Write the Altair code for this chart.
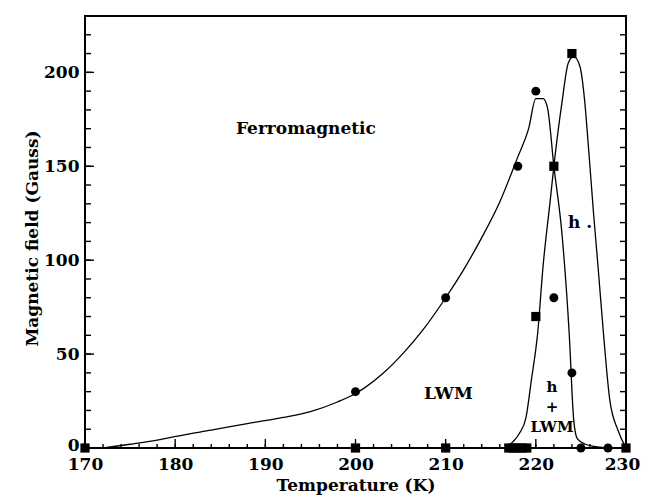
import altair as alt
import pandas as pd

# ---- data ----
circle_T = [200, 210, 218, 220, 222, 224, 225, 228]
circle_B = [30, 80, 150, 190, 80, 40, 0, 0]

square_T = [170, 200, 210, 217, 217.5, 218, 218.5, 219, 220, 222, 224, 230]
square_B = [0, 0, 0, 0, 0, 0, 0, 0, 70, 150, 210, 0]

# boundary of the LWM phase (drawn through the circles)
lwm_T = [172, 175, 178, 181, 184, 188, 192, 195, 198, 200, 201, 203, 205.3,
         207.5, 210, 212, 214, 216, 218, 219.2, 220, 220.8, 221.3, 222,
         222.9, 223.7, 224.2, 224.6, 225.5, 226.5, 228]
lwm_B = [0, 2, 4.2, 7, 9.5, 13, 16.3, 19.4, 24.5, 29, 32, 39.5, 50.5,
         63, 80, 95, 112, 131, 155, 170, 186, 186, 181, 150,
         114, 61, 15, 5, 2, 0.8, 0]

# boundary of the h phase (drawn through the squares)
h_T = [216.6, 217.5, 218.2, 218.9, 219.5, 220.2, 220.8, 221.6, 222, 222.9,
       223.6, 224.2, 224.9, 225.4, 225.8, 226.4, 226.9, 227.5, 228.2, 229.1, 230]
h_B = [0, 3.5, 8, 16, 36, 61, 96.7, 132, 150, 184,
       205, 208.5, 203, 185.6, 162.5, 125, 96.5, 61, 25.6, 9.6, 0]

big_text = ["Ferromagnetic", "LWM", "h ."]
big_T = [194.5, 210.3, 224.9]
big_B = [169.6, 29, 120]

small_text = ["h", "+", "LWM"]
small_T = [221.8, 221.8, 221.8]
small_B = [32.5, 21.8, 11]

x_labels = [170, 180, 190, 200, 210, 220, 230]
y_labels = [0, 50, 100, 150, 200]
x_minor = list(range(170, 231, 2))
y_minor = list(range(0, 231, 10))

FONT = "DejaVu Serif"
W, H = 541, 432

# ---- tables ----
lines_df = pd.DataFrame({
    "T": lwm_T + h_T,
    "B": lwm_B + h_B,
    "curve": ["LWM"] * len(lwm_T) + ["h"] * len(h_T),
})
circ_df = pd.DataFrame({"T": circle_T, "B": circle_B})
sq_df = pd.DataFrame({"T": square_T, "B": square_B})
big_df = pd.DataFrame({"T": big_T, "B": big_B, "text": big_text})
small_df = pd.DataFrame({"T": small_T, "B": small_B, "text": small_text})
xminor_df = pd.DataFrame({"T": x_minor})
xmajor_df = pd.DataFrame({"T": x_labels})
yminor_df = pd.DataFrame({"B": y_minor})
ymajor_df = pd.DataFrame({"B": y_labels})

xscale = alt.Scale(domain=[170, 230], nice=False, zero=False)
yscale = alt.Scale(domain=[0, 230], nice=False, zero=False)

lines = alt.Chart(lines_df).mark_line(
    color="black", strokeWidth=1.3, interpolate="monotone"
).encode(
    x=alt.X("T:Q", scale=xscale, axis=alt.Axis(
        values=x_labels, ticks=False, domain=False, grid=False,
        labelPadding=8, labelFlush=False, labelOverlap=False,
        labelOffset={"condition": {"test": "datum.value >= 230", "value": -4},
                     "value": 0},
        title="Temperature (K)", titleY=29, titleBaseline="top")),
    y=alt.Y("B:Q", scale=yscale, axis=alt.Axis(
        values=y_labels, ticks=False, domain=False, grid=False,
        labelPadding=6, labelFlush=False, labelOverlap=False,
        labelOffset={"condition": {"test": "datum.value <= 0", "value": -3},
                     "value": 0},
        title="Magnetic field (Gauss)", titleX=-53, titleY=222,
        titleAngle=270, titleAlign="center", titleBaseline="middle")),
    detail="curve:N",
)

tick_style = dict(color="black", strokeWidth=1.4)

x_minor_ticks = alt.Chart(xminor_df).mark_rule(**tick_style).encode(
    x=alt.X("T:Q", scale=xscale), y=alt.value(H), y2=alt.value(H - 4))
x_major_ticks = alt.Chart(xmajor_df).mark_rule(**tick_style).encode(
    x=alt.X("T:Q", scale=xscale), y=alt.value(H), y2=alt.value(H - 9))
y_left_ticks = alt.Chart(yminor_df).mark_rule(**tick_style).encode(
    y=alt.Y("B:Q", scale=yscale), x=alt.value(0), x2=alt.value(6))
y_left_major = alt.Chart(ymajor_df).mark_rule(**tick_style).encode(
    y=alt.Y("B:Q", scale=yscale), x=alt.value(0), x2=alt.value(9))
y_right_ticks = alt.Chart(yminor_df).mark_rule(**tick_style).encode(
    y=alt.Y("B:Q", scale=yscale), x=alt.value(W), x2=alt.value(W - 6))

circles = alt.Chart(circ_df).mark_point(
    shape="circle", filled=True, color="black", size=80, opacity=1, clip=False
).encode(
    x=alt.X("T:Q", scale=xscale),
    y=alt.Y("B:Q", scale=yscale),
)

squares = alt.Chart(sq_df).mark_point(
    shape="square", filled=True, color="black", size=85, opacity=1, clip=False
).encode(
    x=alt.X("T:Q", scale=xscale),
    y=alt.Y("B:Q", scale=yscale),
)

big_labels = alt.Chart(big_df).mark_text(
    font=FONT, fontWeight="bold", fontSize=17, color="black",
    align="center", baseline="middle"
).encode(
    x=alt.X("T:Q", scale=xscale),
    y=alt.Y("B:Q", scale=yscale),
    text="text:N",
)

small_labels = alt.Chart(small_df).mark_text(
    font=FONT, fontWeight="bold", fontSize=15, color="black",
    align="center", baseline="middle"
).encode(
    x=alt.X("T:Q", scale=xscale),
    y=alt.Y("B:Q", scale=yscale),
    text="text:N",
)

chart = alt.layer(
    lines, x_minor_ticks, x_major_ticks, y_left_ticks, y_left_major,
    y_right_ticks, circles, squares, big_labels, small_labels
).properties(
    width=W, height=H,
    autosize=alt.AutoSizeParams(type="none"),
    padding={"left": 77, "top": 8, "right": 16, "bottom": 47},
    background="white",
).configure_view(
    stroke="black", strokeWidth=2
).configure_axis(
    labelFont=FONT, labelFontWeight="bold", labelFontSize=17, labelColor="black",
    titleFont=FONT, titleFontWeight="bold", titleFontSize=17, titleColor="black",
)

chart.save("out.html", embed_options={"renderer": "svg", "actions": False})
